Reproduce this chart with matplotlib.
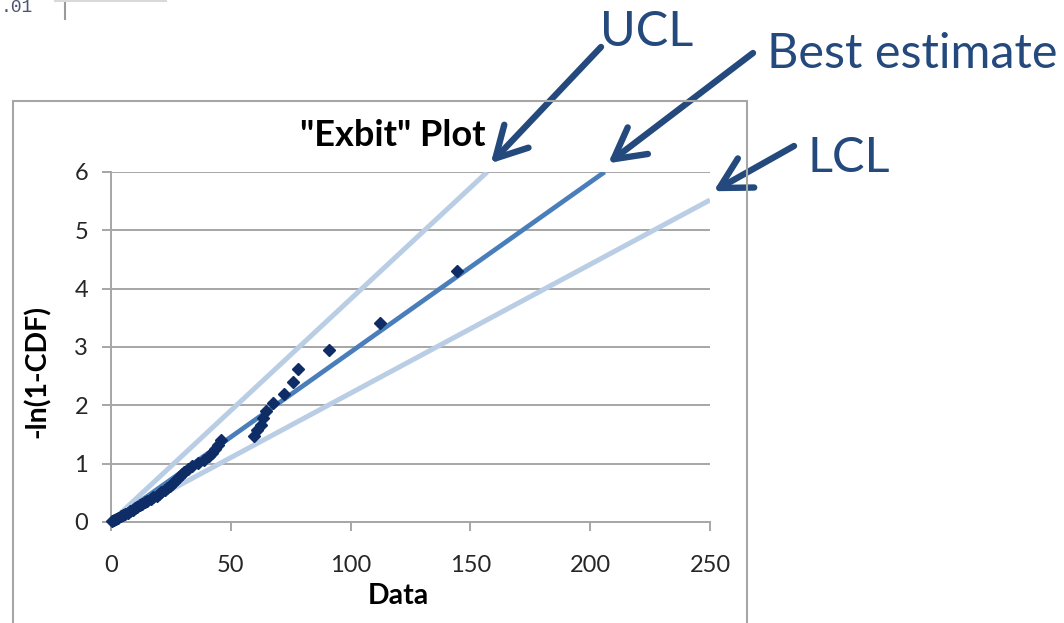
import matplotlib.pyplot as plt
from matplotlib.lines import Line2D
from matplotlib.patches import Rectangle

plt.rcParams["font.family"] = ["Lato", "DejaVu Sans"]

# sorted observations and their -ln(1-CDF) plotting positions
data_x = [0.6, 1.4, 2.2, 3, 4, 5, 6, 7, 8, 9, 10, 11, 12, 13, 14, 15, 16.5,
          17.5, 19, 20, 21, 22.5, 23.5, 24.5, 25.5, 26.5, 27.5, 28.5, 29.5,
          30.5, 32, 34, 36.5, 39, 41, 42, 43.5, 44.5, 46, 59.5, 61, 62.5,
          63.5, 64.5, 67.5, 72, 76, 78, 91, 112.3, 144.4]
cdf_y = [0.014, 0.033, 0.054, 0.075, 0.095, 0.118, 0.140, 0.162, 0.186,
         0.209, 0.233, 0.258, 0.283, 0.310, 0.337, 0.364, 0.393, 0.422,
         0.452, 0.483, 0.515, 0.549, 0.583, 0.618, 0.655, 0.693, 0.733,
         0.774, 0.817, 0.862, 0.909, 0.959, 1.011, 1.066, 1.124, 1.186,
         1.252, 1.322, 1.398, 1.480, 1.569, 1.668, 1.776, 1.898, 2.038,
         2.199, 2.392, 2.631, 2.946, 3.409, 4.296]

# fitted lines through the origin: label, end x, end y
fit_names = ["UCL", "Best estimate", "LCL"]
fit_end_x = [157, 206, 250]
fit_end_y = [6, 6, 5.52]

x_ticks = [0, 50, 100, 150, 200, 250]
y_ticks = [0, 1, 2, 3, 4, 5, 6]

W, H = 1064, 623


def px(x, y):
    """pixel position (from top left) -> figure fraction"""
    return x / W, 1 - y / H


fig = plt.figure(figsize=(W / 100, H / 100), dpi=100)
fig.patch.set_facecolor("white")

# outer chart frame
x0, y0 = px(13, 640)
x1, y1 = px(747, 101)
fig.add_artist(Rectangle((x0, y0), x1 - x0, y1 - y0, transform=fig.transFigure,
                         fill=False, edgecolor="#A6A6A6", lw=1.5))

# leftover bits of the chart above
fig.text(*px(1, 12), ".01", ha="left", va="baseline", fontsize=13,
         family="Liberation Mono", color="#4A5670")
fig.add_artist(Line2D([px(65, 0)[0]] * 2, [px(0, 0)[1], px(0, 19)[1]],
                      transform=fig.transFigure, color="#9A9A9A", lw=1.5))
fig.add_artist(Line2D([px(55, 0)[0], px(166, 0)[0]], [px(0, 1)[1]] * 2,
                      transform=fig.transFigure, color="#D9D9D9", lw=1.5))

ax = fig.add_axes([111 / W, 1 - 522 / H, 599 / W, 350 / H])
grey = "#A6A6A6"

line_colors = ["#B9CDE5", "#4A7EBB", "#B9CDE5"]
line_widths = [3.6, 3.4, 3.6]
for ex, ey, c, lw in zip(fit_end_x, fit_end_y, line_colors, line_widths):
    ax.plot([0, ex], [0, ey], color=c, lw=lw, solid_capstyle="butt", zorder=2)

ax.plot(data_x, cdf_y, "D", color="#0E2C66", markersize=6.5, zorder=3,
        clip_on=False)

ax.set_xlim(0, 250)
ax.set_ylim(0, 6)
ax.set_xticks(x_ticks)
ax.set_yticks(y_ticks)
ax.yaxis.grid(True, color=grey, lw=1.4)
ax.set_axisbelow(True)
for s in ["top", "right"]:
    ax.spines[s].set_visible(False)
for s in ["left", "bottom"]:
    ax.spines[s].set_color(grey)
    ax.spines[s].set_linewidth(1.4)
ax.tick_params(axis="both", direction="out", length=6.5, width=1.4,
               color=grey, labelsize=17, labelcolor="#262626")
ax.tick_params(axis="x", pad=17)
ax.tick_params(axis="y", pad=10)

ax.set_xlabel("Data", fontsize=20.5, fontweight="bold")
ax.xaxis.label.set_va("center")
ax.xaxis.set_label_coords(0.479, -0.211)
ax.set_ylabel("-ln(1-CDF)", fontsize=20.5, fontweight="bold")
ax.yaxis.label.set_va("center")
ax.yaxis.set_label_coords(-0.1235, 0.43)

fig.text(*px(393, 135), '"Exbit" Plot', ha="center", va="center",
         fontsize=26, fontweight="bold")

# callouts pointing at the ends of the fitted lines
navy = "#24497C"
label_pos = [(600, 46), (767, 68), (808, 172)]
tail_pos = [(601, 47), (753, 53), (794, 146)]
for name, ex, ey, lp, tp in zip(fit_names, fit_end_x, fit_end_y,
                                label_pos, tail_pos):
    fig.text(*px(*lp), name, ha="left", va="baseline", fontsize=35,
             color=navy)
    ax.annotate("", xy=(ex + 1.5, ey + 0.15), xycoords="data",
                xytext=px(*tp), textcoords="figure fraction",
                arrowprops=dict(arrowstyle="->,head_length=1.1,head_width=0.6",
                                lw=4.6, color=navy, mutation_scale=20,
                                shrinkA=0, shrinkB=0),
                annotation_clip=False)

fig.savefig("out.png", dpi=100)
